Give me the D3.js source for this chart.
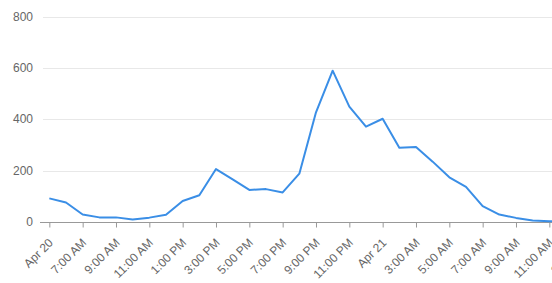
<!DOCTYPE html>
<html>
<head>
<meta charset="utf-8">
<script src="https://cdn.jsdelivr.net/npm/d3@7"></script>
<style>
  html, body { margin: 0; padding: 0; background: #fff; overflow: hidden; }
  svg { display: block; font-family: "Liberation Sans", Arial, sans-serif; }
</style>
</head>
<body>
<svg id="chart" width="552" height="283"></svg>
<script>
// Hourly series values (index = hours since first tick)
const values = [92, 76, 29, 18, 18, 10, 17, 28, 82, 104, 206, 166, 125, 128, 115, 188, 427, 589, 449, 371, 402, 289, 292, 235, 174, 137, 62, 29, 16, 6, 3, 1];
// Tick labels every 2 hours
const tickIndex = [0, 2, 4, 6, 8, 10, 12, 14, 16, 18, 20, 22, 24, 26, 28, 30, 32];
const tickLabels = ["Apr 20", "7:00 AM", "9:00 AM", "11:00 AM", "1:00 PM", "3:00 PM", "5:00 PM", "7:00 PM", "9:00 PM", "11:00 PM", "Apr 21", "3:00 AM", "5:00 AM", "7:00 AM", "9:00 AM", "11:00 AM", "1:00 PM"];
const yTicks = [0, 200, 400, 600, 800];

const svg = d3.select("#chart");
const W = 552, H = 283;

const x = d3.scaleLinear().domain([0, 30]).range([49.33, 549.33]);
const y = d3.scaleLinear().domain([0, 800]).range([222, 16.5]);

// gridlines
svg.append("g").selectAll("line").data(yTicks.filter(d => d > 0)).join("line")
  .attr("x1", 43).attr("x2", W)
  .attr("y1", d => Math.round(y(d)) + 0.5).attr("y2", d => Math.round(y(d)) + 0.5)
  .attr("stroke", "#e8e8e8").attr("stroke-width", 1);

// y labels
svg.append("g").selectAll("text").data(yTicks).join("text")
  .attr("x", 33).attr("y", d => y(d))
  .attr("dy", "0.35em")
  .attr("text-anchor", "end")
  .attr("font-size", 12)
  .attr("fill", "#666")
  .text(d => d);

// x axis
const xAxis = d3.axisBottom(x)
  .tickValues(tickIndex)
  .tickFormat((d, i) => tickLabels[i])
  .tickSize(5)
  .tickSizeOuter(0);

const gx = svg.append("g")
  .attr("transform", `translate(0,${Math.round(y(0)) + 0.5})`)
  .call(xAxis);
gx.select(".domain").remove();
gx.insert("line", ":first-child")
  .attr("x1", 40).attr("x2", W).attr("y1", 0).attr("y2", 0)
  .attr("stroke", "#999");
gx.selectAll(".tick line").attr("stroke", "#999");
gx.selectAll(".tick text")
  .attr("font-size", 12)
  .attr("font-family", "Liberation Sans, Arial, sans-serif")
  .attr("fill", "#666")
  .attr("text-anchor", "end")
  .attr("dy", null)
  .attr("y", null)
  .attr("transform", "translate(4,21) rotate(-45)");

// line
const line = d3.line().x((d, i) => x(i)).y(d => y(d));
svg.append("path")
  .datum(values)
  .attr("d", line)
  .attr("fill", "none")
  .attr("stroke", "#3a8ee6")
  .attr("stroke-width", 2)
  .attr("stroke-linejoin", "round");
</script>
</body>
</html>
